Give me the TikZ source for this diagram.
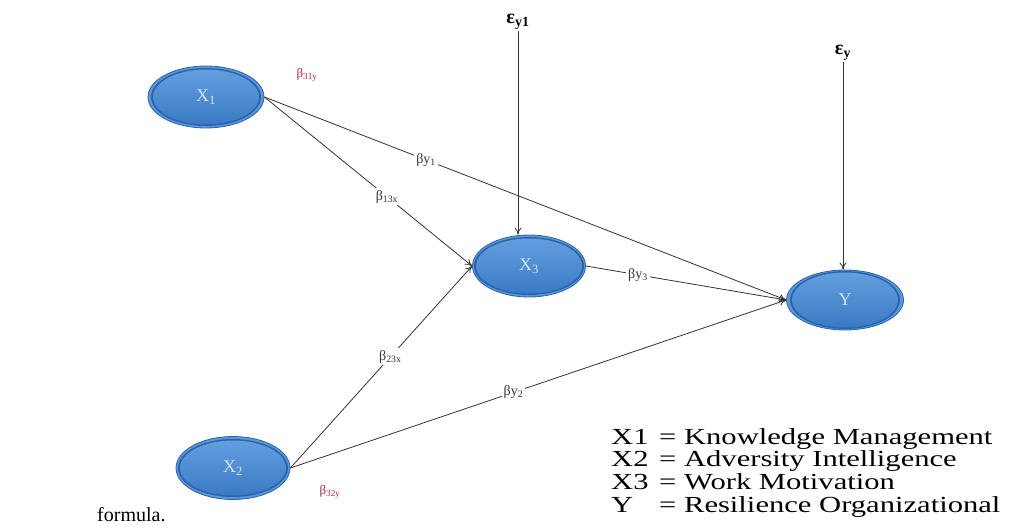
\documentclass[tikz,border=0pt]{standalone}
\usepackage{fontspec}
\setmainfont{Liberation Serif}
\usetikzlibrary{shapes.geometric,arrows.meta}
\definecolor{ringblue}{RGB}{40,100,172}
\definecolor{bandblue}{RGB}{95,150,215}
\definecolor{bodyblue}{RGB}{58,122,198}
\definecolor{toplight}{RGB}{100,158,222}
\definecolor{vartext}{RGB}{215,228,242}
\definecolor{linegray}{RGB}{50,50,50}
\definecolor{betared}{RGB}{170,40,60}
\tikzset{
  var/.style={ellipse, minimum width=116pt, minimum height=62pt, inner sep=0pt,
    draw=ringblue, line width=0.8pt, fill=bandblue,
    path picture={
      \fill[ringblue] (path picture bounding box.center) ellipse (55pt and 29pt);
      \shade[top color=toplight, bottom color=bodyblue]
      (path picture bounding box.center) ellipse (53pt and 27.5pt);},
    text=vartext, font=\fontsize{18}{20}\selectfont},
  conn/.style={draw=linegray, line width=0.8pt, -{To[length=7pt,width=7pt]}},
  lbl/.style={fill=white, inner sep=2pt, font=\fontsize{14}{16}\selectfont, text=black!80},
  redlbl/.style={inner sep=0pt, font=\fontsize{13}{15}\selectfont, text=betared},
  eps/.style={inner sep=1pt, font=\bfseries\fontsize{20}{22}\selectfont},
  legend/.style={anchor=north west, inner sep=0pt, font=\fontsize{23}{22.7}\selectfont, align=left}
}
\begin{document}
\begin{tikzpicture}[x=1pt,y=-1pt]
\useasboundingbox (0,0) rectangle (1014,532);
\node[var] (X1) at (206,97) {X\textsubscript{1}};
\node[var, minimum width=114pt, minimum height=63pt] (X2) at (233,468) {X\textsubscript{2}};
\node[var, minimum width=113pt] (X3) at (529,266) {X\textsubscript{3}};
\node[var, minimum width=117pt, minimum height=60pt] (Y) at (845,300) {Y};
\node[eps] (e1) at (518,22) {ε\textsubscript{y1}};
\node[eps] (e2) at (843,53) {ε\textsubscript{y}};
\node[redlbl] (b31) at (307,75) {β\textsubscript{31y}};
\node[redlbl] (b32) at (330,492) {β\textsubscript{32y}};
\draw[conn] (e1.south) -- (e1.south |- X3.north);
\draw[conn] (e2.south) -- (e2.south |- Y.north);
\draw[conn] (X1.east) -- node[lbl, pos=0.31] (by1) {βy\textsubscript{1}} (Y.west);
\draw[conn] (X1.east) -- node[lbl, pos=0.59] (b13) {β\textsubscript{13x}} (X3.west);
\draw[conn] (X2.east) -- node[lbl, pos=0.55] (b23) {β\textsubscript{23x}} (X3.west);
\draw[conn] (X2.east) -- node[lbl, pos=0.45] (by2) {βy\textsubscript{2}} (Y.west);
\draw[conn] (X3.east) -- node[lbl, pos=0.26] (by3) {βy\textsubscript{3}} (Y.west);
\node[legend] (leg) at (611,428) {\scalebox{1.33}[1]{%
  \begin{tabular}{@{}l@{\hspace{8pt}}l@{}}
  X1 & = Knowledge Management\\
  X2 & = Adversity Intelligence\\
  X3 & = Work Motivation\\
  Y  & = Resilience Organizational
  \end{tabular}}};
\node[anchor=base west, inner sep=0pt, font=\fontsize{20}{22}\selectfont] (formula) at (97,521) {formula.};
\end{tikzpicture}
\end{document}
